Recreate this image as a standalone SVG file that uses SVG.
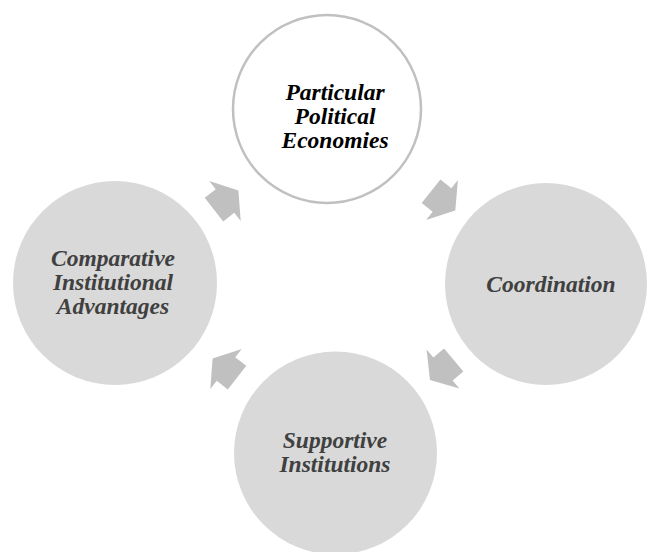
<svg xmlns="http://www.w3.org/2000/svg" width="652" height="552" viewBox="0 0 652 552">
<defs>
<style>
.node-fill{fill:#d9d9d9;stroke:none}
.node-top{fill:#ffffff;stroke:#c0c0c0;stroke-width:2.5}
.lbl{font-family:"Liberation Serif","Times New Roman",serif;font-size:23.5px;font-weight:bold;font-style:italic;text-anchor:middle;fill:#404040}
.lbl-top{fill:#000000}
.arr{fill:#c0c0c0;stroke:none}
</style>
<polygon id="arrowShape" class="arr" points="-14,-15 0,-15 0,-25.5 17,0 0,25.5 0,15 -14,15"/>
</defs>
<rect width="652" height="552" fill="#ffffff"/>
<g id="node-top">
<circle class="node-top" cx="327" cy="109" r="94"/>
<text class="lbl lbl-top" x="335" y="100">Particular</text>
<text class="lbl lbl-top" x="335" y="124">Political</text>
<text class="lbl lbl-top" x="335" y="148">Economies</text>
</g>
<g id="node-right">
<circle class="node-fill" cx="546" cy="284" r="101"/>
<text class="lbl" x="551" y="292">Coordination</text>
</g>
<g id="node-bottom">
<circle class="node-fill" cx="335.5" cy="453" r="101.5"/>
<text class="lbl" x="335" y="448">Supportive</text>
<text class="lbl" x="335" y="472">Institutions</text>
</g>
<g id="node-left">
<circle class="node-fill" cx="115" cy="283" r="102"/>
<text class="lbl" x="113" y="266">Comparative</text>
<text class="lbl" x="113" y="290">Institutional</text>
<text class="lbl" x="113" y="314">Advantages</text>
</g>
<g id="connectors">
<use href="#arrowShape" transform="translate(225,201) rotate(-38)"/>
<use href="#arrowShape" transform="translate(442,200) rotate(38.6)"/>
<use href="#arrowShape" transform="translate(443,369) rotate(140)"/>
<use href="#arrowShape" transform="translate(226,369) rotate(-142)"/>
</g>
</svg>
